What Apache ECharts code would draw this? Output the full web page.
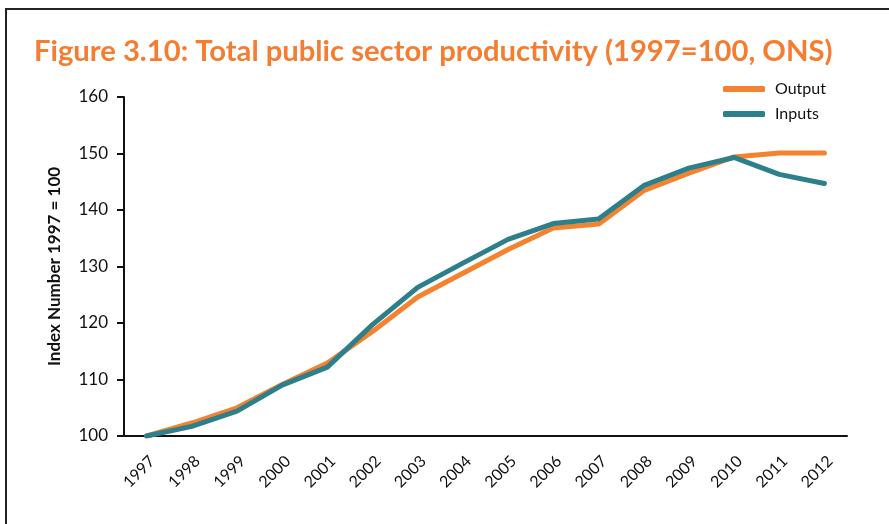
<!DOCTYPE html>
<html>
<head>
<meta charset="utf-8">
<script src="https://cdn.jsdelivr.net/npm/echarts@6/dist/echarts.min.js"></script>
<style>
  html, body { margin: 0; padding: 0; background: #fff; }
  #chart { width: 889px; height: 524px; }
</style>
</head>
<body>
<div id="chart"></div>
<script>
// Public sector productivity index, 1997 = 100 (ONS)
const years = ['1997','1998','1999','2000','2001','2002','2003','2004','2005','2006','2007','2008','2009','2010','2011','2012'];
const outputValues = [100, 102.3, 105.0, 109.1, 112.9, 118.5, 124.6, 128.8, 133.0, 136.8, 137.5, 143.4, 146.5, 149.4, 150.1, 150.1];
const inputValues  = [100, 101.7, 104.4, 109.0, 112.2, 119.7, 126.3, 130.6, 134.8, 137.6, 138.4, 144.3, 147.4, 149.3, 146.3, 144.7];
const yTicks = { min: 100, max: 160, step: 10 };

const ORANGE = '#F5822F';
const TEAL = '#2E7F8C';
const FONT = 'Lato, "Open Sans", sans-serif';

const chart = echarts.init(document.getElementById('chart'), null, { renderer: 'canvas' });

chart.setOption({
  backgroundColor: '#fff',
  animation: false,
  title: {
    text: 'Figure 3.10: Total public sector productivity (1997=100, ONS)',
    left: 29,
    top: 32,
    textStyle: { color: '#F47D30', fontFamily: FONT, fontWeight: 'bold', fontSize: 29.2 }
  },
  graphic: [{
    type: 'rect',
    shape: { x: 6, y: 9, width: 900, height: 600 },
    style: { fill: null, stroke: '#222', lineWidth: 2 },
    silent: true
  }],
  legend: {
    orient: 'vertical',
    left: 718,
    top: 75,
    itemWidth: 42,
    itemHeight: 6,
    itemGap: 7,
    icon: 'roundRect',
    textStyle: { fontFamily: FONT, fontSize: 16, color: '#111', lineHeight: 18, padding: [0, 0, 0, 5] },
    data: ['Output', 'Inputs']
  },
  grid: { left: 124, right: 42, top: 97, bottom: 88, containLabel: false },
  xAxis: {
    type: 'category',
    data: years,
    boundaryGap: true,
    axisLine: { lineStyle: { color: '#111', width: 2 } },
    axisTick: { show: false },
    axisLabel: { rotate: 45, verticalAlign: 'top', fontFamily: FONT, fontSize: 16, color: '#111', margin: 17, interval: 0 }
  },
  yAxis: {
    type: 'value',
    min: yTicks.min,
    max: yTicks.max,
    interval: yTicks.step,
    name: 'Index Number 1997 = 100',
    nameLocation: 'middle',
    nameRotate: 90,
    nameGap: 61,
    nameTextStyle: { fontFamily: FONT, fontWeight: 'bold', fontSize: 17, color: '#111' },
    splitLine: { show: false },
    axisLine: { show: true, lineStyle: { color: '#111', width: 2 } },
    axisTick: { show: true, inside: false, length: 7, lineStyle: { color: '#111', width: 2 } },
    axisLabel: { fontFamily: FONT, fontSize: 17, color: '#111', margin: 16 }
  },
  series: [
    {
      name: 'Output',
      type: 'line',
      data: outputValues,
      symbol: 'none',
      itemStyle: { color: ORANGE },
      lineStyle: { color: ORANGE, width: 5, cap: 'round', join: 'round' }
    },
    {
      name: 'Inputs',
      type: 'line',
      data: inputValues,
      symbol: 'none',
      itemStyle: { color: TEAL },
      lineStyle: { color: TEAL, width: 5, cap: 'round', join: 'round' }
    }
  ]
});
</script>
</body>
</html>
